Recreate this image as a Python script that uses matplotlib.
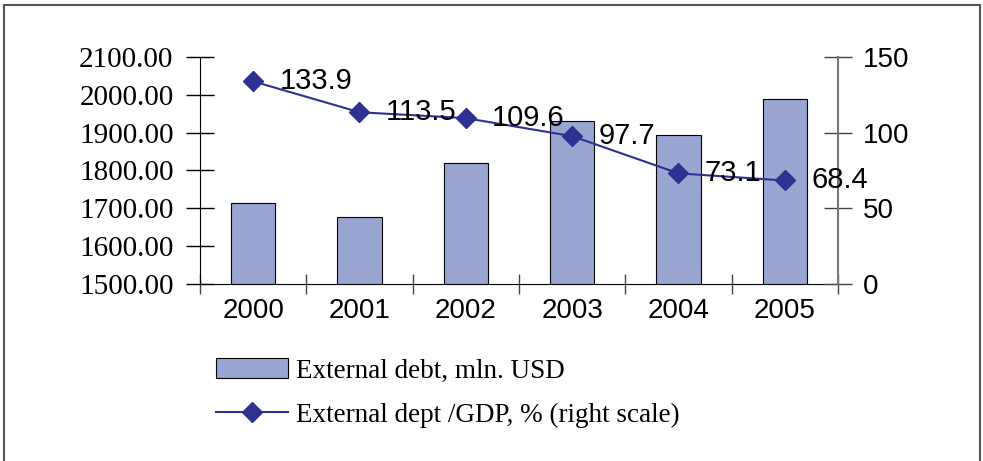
import matplotlib
matplotlib.use("Agg")
import matplotlib.pyplot as plt
from matplotlib.patches import Patch, Rectangle
from matplotlib.lines import Line2D
from matplotlib.ticker import FormatStrFormatter, MultipleLocator

# data
years = ["2000", "2001", "2002", "2003", "2004", "2005"]
debt = [1715, 1678, 1821, 1932, 1895, 1990]
debt_gdp = [133.9, 113.5, 109.6, 97.7, 73.1, 68.4]

bar_color = "#99a6d2"
line_color = "#2e3192"
serif = "Liberation Serif"
sans = "Liberation Sans"

fig = plt.figure(figsize=(9.83, 4.61), dpi=100)
ax = fig.add_axes([200 / 983, 1 - 284 / 461, 638 / 983, 227 / 461])
ax2 = ax.twinx()

x = list(range(len(years)))
ax.bar(x, debt, width=0.42, color=bar_color, edgecolor="black", linewidth=0.8,
       zorder=2)
ax.set_ylim(1500, 2100)
ax.set_xlim(-0.5, len(years) - 0.5)
ax.yaxis.set_major_locator(MultipleLocator(100))
ax.yaxis.set_major_formatter(FormatStrFormatter("%.2f"))

ax2.plot(x, debt_gdp, color=line_color, linewidth=1.5, marker="D",
         markersize=10, markerfacecolor=line_color, markeredgecolor=line_color)
ax2.set_ylim(0, 150)
ax2.yaxis.set_major_locator(MultipleLocator(50))
for xi, v in zip(x, debt_gdp):
    ax2.annotate(f"{v:.1f}", (xi, v), xytext=(19, 0), textcoords="offset points",
                 ha="left", va="center", fontsize=21, family=sans, color="black")

# category ticks sit on the boundaries, labels in the middle
ax.set_xticks([i - 0.5 for i in range(len(years) + 1)])
ax.set_xticklabels([])
ax.set_xticks(x, minor=True)
ax.set_xticklabels(years, minor=True)
ax.tick_params(axis="x", which="minor", length=0, pad=10, labelsize=20,
               labelfontfamily=sans)
ax.tick_params(axis="x", which="major", direction="inout", length=14, width=1,
               color="#444444")
ax.tick_params(axis="y", direction="inout", length=20, width=1, pad=9,
               labelsize=21, labelfontfamily=serif)
ax2.tick_params(axis="y", direction="inout", length=20, width=1, pad=8,
                color="#444444", labelsize=20, labelfontfamily=sans)

for a in (ax, ax2):
    a.spines["top"].set_visible(False)
ax.spines["right"].set_visible(False)
ax2.spines["left"].set_visible(False)
ax2.spines["bottom"].set_visible(False)
ax2.spines["right"].set_color("#777777")
ax2.spines["right"].set_linewidth(1.5)

handles = [Patch(facecolor=bar_color, edgecolor="black", linewidth=0.8),
           Line2D([], [], color=line_color, linewidth=1.5, marker="D", markersize=10)]
labels = ["External debt, mln. USD", "External dept /GDP, % (right scale)"]
fig.legend(handles, labels, loc="center left",
           bbox_to_anchor=(216 / 983, 1 - 393 / 461), frameon=False,
           prop={"family": serif, "size": 19.5}, handlelength=2.65,
           handleheight=0.8, handletextpad=0.3, labelspacing=0.7, borderpad=0,
           borderaxespad=0)

# outer frame
fig.patches.append(Rectangle((4 / 983, -0.01), 976 / 983, 1 - 5 / 461 + 0.01,
                             transform=fig.transFigure, fill=False,
                             edgecolor="#555555", linewidth=1.5))

fig.savefig("out.png", dpi=100)
